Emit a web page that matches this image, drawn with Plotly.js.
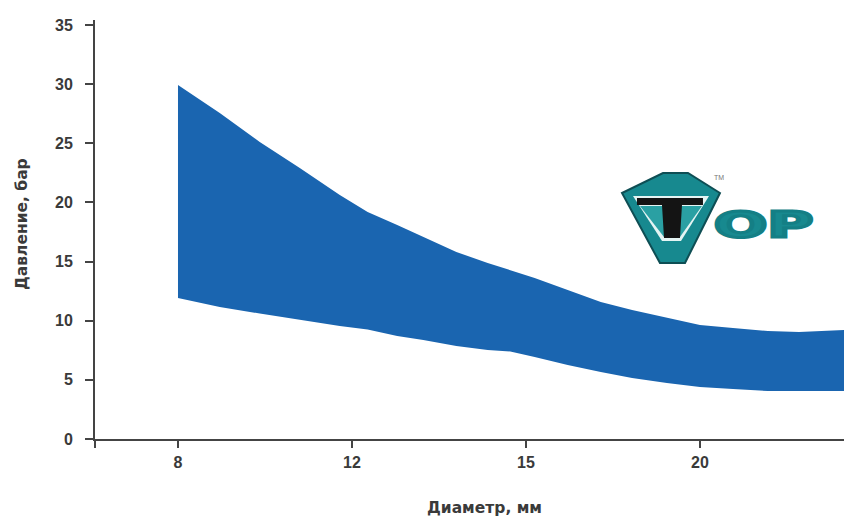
<!DOCTYPE html>
<html><head><meta charset="utf-8">
<script src="https://cdn.plot.ly/plotly-3.0.1.min.js"></script>
<style>html,body{margin:0;padding:0;background:#fff}#c{width:844px;height:518px}</style>
</head><body><div id="c"></div>
<script>
var diameterLabels = ["8","12","15","20"];
var diameterPos = [0,1,2,3];
var pressureTicks = [0,5,10,15,20,25,30,35];
var bandX = [0,0.24,0.47,0.70,0.93,1.09,1.26,1.41,1.60,1.78,1.91,2.05,2.24,2.43,2.61,2.81,3.0,3.19,3.39,3.57,3.83];
var bandTop = [29.92,27.56,25.11,22.91,20.63,19.19,18.09,17.07,15.81,14.88,14.29,13.61,12.60,11.58,10.90,10.23,9.64,9.38,9.13,9.04,9.21];
var bandBottom = [11.92,11.16,10.61,10.06,9.55,9.26,8.71,8.37,7.86,7.52,7.40,6.93,6.26,5.66,5.16,4.73,4.40,4.23,4.06,4.06,4.06];

var W=749,H=419,L=95,B=439;
function poly(pts){return 'M'+pts.map(function(p){return ((p[0]-L)/W).toFixed(4)+','+((B-p[1])/H).toFixed(4)}).join('L')+'Z';}
function sh(pts,fill,line,lw){return {type:'path',xref:'paper',yref:'paper',path:poly(pts),fillcolor:fill,line:{color:line||fill,width:lw||0},layer:'above'};}
var logoShapes=[
 sh([[663,173],[688,173],[720,193],[685,263],[660,263],[622,193]],'#17898f','#0e4e54',2),
 sh([[633,196],[709,196],[681,241],[662,241]],'#e4f4f3'),
 sh([[640,206],[702,206],[680,237],[664,237]],'#2aa0a3'),
 sh([[637,198],[703,198],[703,205],[682,205],[680,238],[664,238],[662,205],[637,205]],'#141414')
];
var tickFont={family:'Liberation Sans, Arial, sans-serif',size:16,color:'#3a3a3a',weight:700};
var layout={
 width:844,height:518,margin:{l:95,r:0,t:20,b:79,pad:0},
 paper_bgcolor:'#fff',plot_bgcolor:'#fff',showlegend:false,
 font:{family:'Liberation Sans, Arial, sans-serif',size:13,color:'#333'},
 xaxis:{range:[-0.477,3.828],tickmode:'array',tickvals:[-0.477].concat(diameterPos),ticktext:[''].concat(diameterLabels),
  ticks:'outside',ticklen:7,tickwidth:2,tickcolor:'#444',showgrid:false,zeroline:false,showline:true,linecolor:'#444',linewidth:2,
  tickfont:tickFont,ticklabelstandoff:1},
 yaxis:{range:[0,35.42],tickmode:'array',tickvals:pressureTicks,ticktext:pressureTicks.map(String),
  ticks:'outside',ticklen:8,tickwidth:2,tickcolor:'#444',showgrid:false,zeroline:false,showline:true,linecolor:'#444',linewidth:2,
  tickfont:tickFont,ticklabelstandoff:9},
 shapes:logoShapes,
 annotations:[
  {text:'<b>Диаметр, мм</b>',xref:'paper',yref:'paper',x:(484-L)/W,y:(B-508)/H,showarrow:false,xanchor:'center',yanchor:'middle',font:{family:'DejaVu Sans',size:15.5,color:'#3a3a3a'}},
  {text:'<b>Давление, бар</b>',xref:'paper',yref:'paper',x:(22-L)/W,y:(B-224)/H,showarrow:false,textangle:-90,xanchor:'center',yanchor:'middle',font:{family:'DejaVu Sans',size:15.5,color:'#3a3a3a'}},
  {text:'TM',xref:'paper',yref:'paper',x:(719-L)/W,y:(B-177)/H,showarrow:false,xanchor:'center',yanchor:'middle',font:{size:7,color:'#777'}},
  {text:'<b>OP</b>',xref:'paper',yref:'paper',x:(763-L)/W,y:(B-224)/H,showarrow:false,xanchor:'center',yanchor:'middle',font:{family:'DejaVu Sans',size:36,color:'#17898f'}}
 ]
};
var traces=[
 {x:bandX,y:bandBottom,mode:'lines',line:{color:'#1a65b0',width:0},hoverinfo:'skip'},
 {x:bandX,y:bandTop,mode:'lines',line:{color:'#1a65b0',width:0},fill:'tonexty',fillcolor:'#1a65b0',hoverinfo:'skip'}
];
Plotly.newPlot('c',traces,layout,{displayModeBar:false,staticPlot:true}).then(function(){
 var ts=document.querySelectorAll('.annotation-text');
 ts.forEach(function(t){ if(t.textContent==='OP'){
  var b=t.getBBox(),cx=b.x+b.width/2,cy=b.y+b.height/2,sx=99/b.width;
  t.setAttribute('transform','translate('+cx+' '+cy+') scale('+sx+' 1) translate('+(-cx)+' '+(-cy)+')');
  t.style.stroke='#147f85';t.style.strokeWidth='3px';
 }});
});
</script></body></html>
